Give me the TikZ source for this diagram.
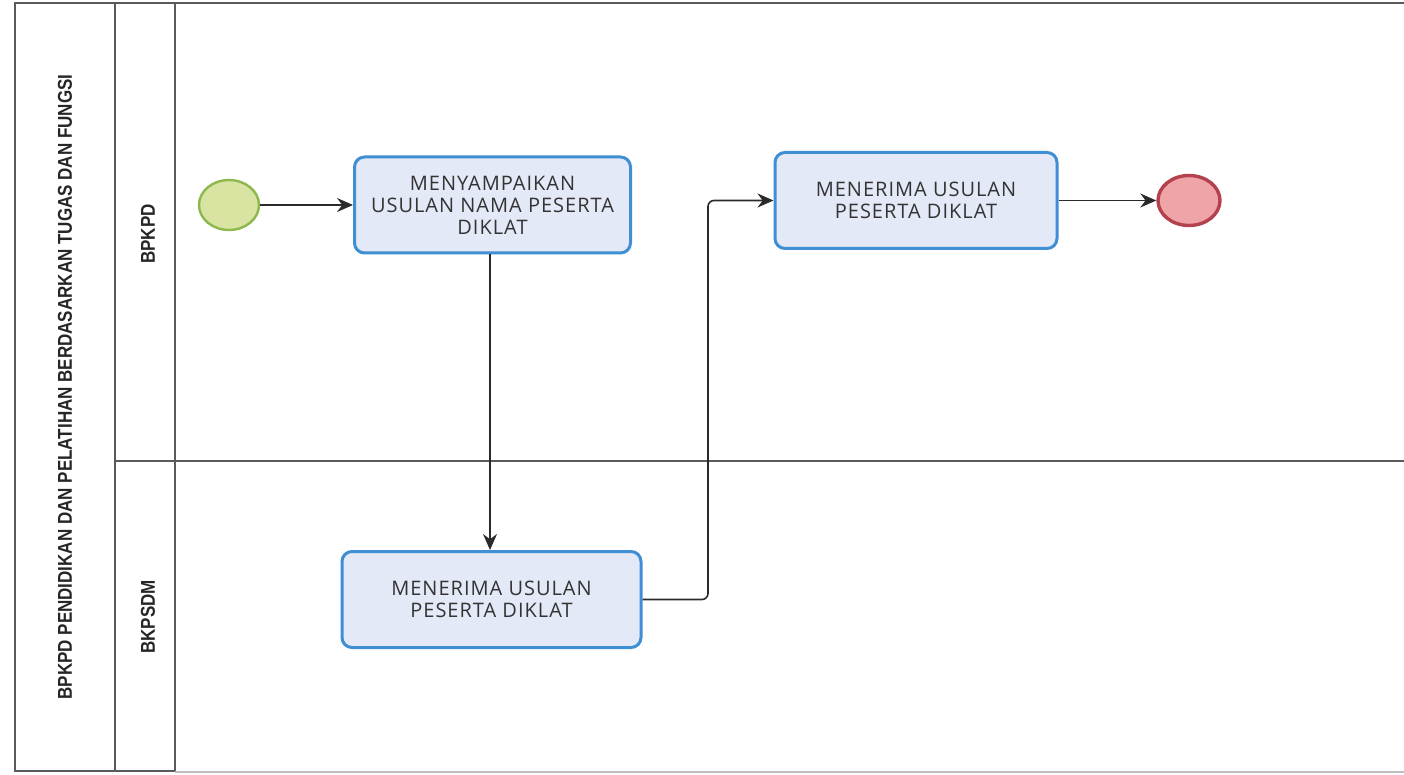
\documentclass[tikz,border=0pt]{standalone}
\usepackage{fontspec}
\setmainfont[LetterSpace=5]{Open Sans}
\newfontfamily\lanefont[FakeStretch=0.85]{Liberation Sans Bold}
\usetikzlibrary{arrows.meta,positioning,shapes.geometric}
\definecolor{taskfill}{HTML}{E4E9F8}
\definecolor{taskdraw}{HTML}{3F8FD2}
\definecolor{startfill}{HTML}{D9E3A2}
\definecolor{startdraw}{HTML}{8DB84E}
\definecolor{endfill}{HTML}{EFA5A7}
\definecolor{enddraw}{HTML}{B4414E}
\definecolor{lanedraw}{HTML}{5A5A5A}
\definecolor{flow}{HTML}{2A2A2A}
\tikzset{
  task/.style={draw=taskdraw, fill=taskfill, line width=1.5pt, rounded corners=5pt,
    minimum width=138pt, minimum height=48pt, align=center, text=black!80,
    font=\fontsize{10}{11}\selectfont, inner sep=0pt},
  startev/.style={ellipse, draw=startdraw, fill=startfill, line width=1.2pt,
    minimum width=30pt, minimum height=25pt, inner sep=0pt},
  endev/.style={ellipse, draw=enddraw, fill=endfill, line width=1.7pt,
    minimum width=31pt, minimum height=25pt, inner sep=0pt},
  lane/.style={draw=lanedraw, line width=0.9pt},
  lanelabel/.style={rotate=90, font=\lanefont\fontsize{10}{11}\selectfont, text=black!85},
  flowline/.style={draw=flow, line width=0.8pt, -{Stealth[length=8pt,width=7pt]}, rounded corners=3pt}
}
\begin{document}
\begin{tikzpicture}[x=0.5pt,y=-0.5pt]
\useasboundingbox (0,0) rectangle (1404,775);
% pool frame
\draw[lane] (15,3) rectangle (115,771);
\draw[lane] (115,3) rectangle (175,771);
\draw[lane] (175,3) -- (1404,3);
\draw[lane] (115,461) -- (1404,461);
\draw[draw=black!25, line width=0.6pt] (175,772) -- (1404,772);
% lane labels
\node[lanelabel] (pool) at (65,387) {BPKPD PENDIDIKAN DAN PELATIHAN BERDASARKAN TUGAS DAN FUNGSI};
\node[lanelabel] (l1) at (148,234) {BPKPD};
\node[lanelabel] (l2) at (148,617) {BKPSDM};
% events and tasks
\node[startev] (start) at (229,205) {};
\node[task] (t1) at (492.5,205) {MENYAMPAIKAN\\USULAN NAMA PESERTA\\DIKLAT};
\node[task, minimum width=141pt] (t2) at (916,200.5) {MENERIMA USULAN\\PESERTA DIKLAT};
\node[task, minimum width=149.5pt] (t3) at (491.5,599.5) {MENERIMA USULAN\\PESERTA DIKLAT};
\node[endev] (end) at (1189,200.5) {};
\coordinate (bend) at (708,599.5);
% flows
\draw[flowline] (start) -- (t1);
\draw[flowline] (t1.south -| 490,0) -- (t3.north -| 490,0);
\draw[flowline] (t3.east) -- (bend) -- (bend |- t2.west) -- (t2.west);
\draw[flowline] (t2.east) -- (end.west);
\end{tikzpicture}
\end{document}
